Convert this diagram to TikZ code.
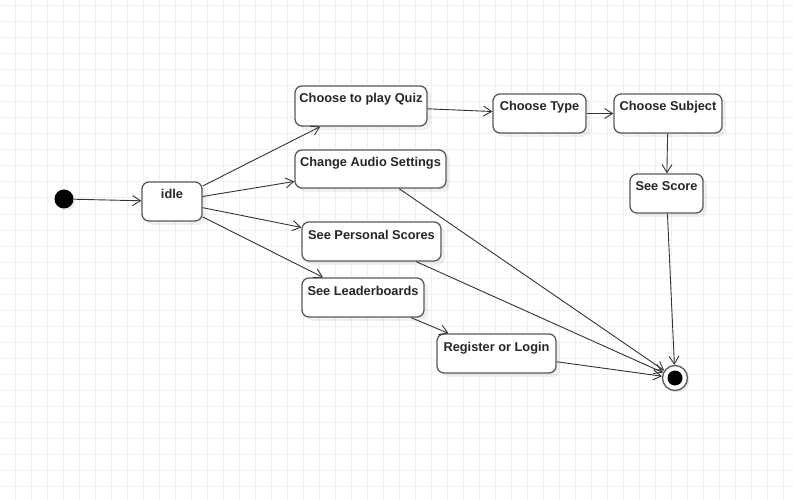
\documentclass[tikz,border=0pt]{standalone}
\usepackage{fontspec}
\setmainfont{Liberation Sans}
\usetikzlibrary{arrows.meta,shadows}
\definecolor{gridc}{HTML}{F0F0F0}
\definecolor{boxc}{HTML}{5A5A5A}
\definecolor{edgec}{HTML}{333333}
\begin{document}
\begin{tikzpicture}[x=1pt,y=-1pt,
  statebox/.style={draw=boxc, line width=1.3pt, fill=white, rounded corners=7pt,
    inner xsep=0pt, inner ysep=0pt, text height=17pt, align=center,
    font=\fontsize{12.8}{14}\selectfont\bfseries, text=black!85,
    drop shadow={shadow xshift=4pt, shadow yshift=-4pt, fill=black, opacity=0.06}},
  flow/.style={draw=edgec, line width=0.9pt, -{Straight Barb[length=8pt,width=10pt,line width=0.9pt]}},
]
\useasboundingbox (0,0) rectangle (793,500);
\fill[white] (0,0) rectangle (793,500);
\foreach \gx in {15,31,...,793} \draw[gridc, line width=1pt] (\gx,0) -- (\gx,500);
\foreach \gy in {6,22,...,500} \draw[gridc, line width=1pt] (0,\gy) -- (793,\gy);

\node[circle, fill=black, inner sep=0pt, minimum size=19pt,
  drop shadow={shadow xshift=2pt, shadow yshift=-2pt, fill=black, opacity=0.08}] (init) at (64,199) {};

\node[statebox, minimum width=60pt, text depth=22pt] (idle) at (172,201.5) {idle};
\node[statebox, minimum width=132pt, text depth=23pt] (quiz) at (361,106) {Choose to play Quiz};
\node[statebox, minimum width=151pt, text depth=21pt] (audio) at (370.5,169) {Change Audio Settings};
\node[statebox, minimum width=139pt, text depth=22pt] (personal) at (371.5,241.5) {See Personal Scores};
\node[statebox, minimum width=122pt, text depth=22pt] (leader) at (363,297.5) {See Leaderboards};
\node[statebox, minimum width=119pt, text depth=22pt] (register) at (496.5,353.5) {Register or Login};
\node[statebox, minimum width=93pt, text depth=22pt] (type) at (539.5,113.5) {Choose Type};
\node[statebox, minimum width=108pt, text depth=22pt] (subject) at (668,113.5) {Choose Subject};
\node[statebox, minimum width=73pt, text depth=22pt] (score) at (666.5,193.5) {See Score};

\node[circle, draw=boxc, line width=1.3pt, fill=white, inner sep=0pt, minimum size=25pt,
  drop shadow={shadow xshift=2pt, shadow yshift=-2pt, fill=black, opacity=0.08}] (final) at (675,378) {};
\node[circle, fill=black, inner sep=0pt, minimum size=15pt] (finaldot) at (final.center) {};

\draw[flow] (init) -- (idle);
\draw[flow] (idle) -- (quiz);
\draw[flow] (idle) -- (audio);
\draw[flow] (idle) -- (personal);
\draw[flow] (idle) -- (leader);
\draw[flow] (quiz) -- (type);
\draw[flow] (type) -- (subject);
\draw[flow] (subject) -- (score);
\draw[flow] (score) -- (final);
\draw[flow] (audio) -- (final);
\draw[flow] (personal) -- (final);
\draw[flow] (leader) -- (register);
\draw[flow] (register) -- (final);
\end{tikzpicture}
\end{document}
